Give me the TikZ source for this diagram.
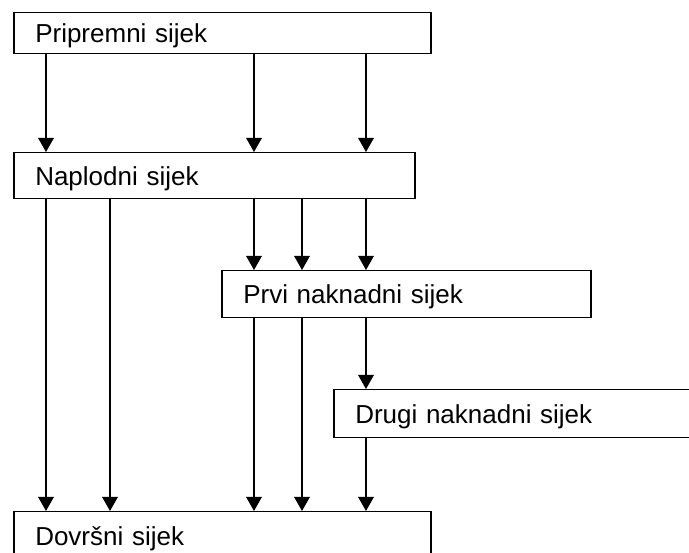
\documentclass[tikz,border=0pt]{standalone}
\usepackage{fontspec}
\setmainfont{Liberation Sans}
\usetikzlibrary{arrows.meta}
\begin{document}
\begin{tikzpicture}[x=1pt,y=-1pt,
  box/.style={draw=black, line width=1.5pt, anchor=north west, inner xsep=21.5pt, inner ysep=0pt,
    align=left, text height=18.6pt, text depth=0pt, font=\fontsize{26}{30}\selectfont},
  arr/.style={draw=black, line width=1.4pt, -{Triangle[length=14pt,width=15.5pt]}}]
\useasboundingbox (0,0) rectangle (689,553);
\clip (0,0) rectangle (689,553);
\fill[white] (0,0) rectangle (689,553);
\node[box, text width=374pt, minimum height=41pt] (b1) at (13,12) {Pripremni sijek};
\node[box, text width=358pt, minimum height=46pt] (b2) at (13,152) {Naplodni sijek};
\node[box, text width=326pt, minimum height=47pt] (b3) at (221,270) {Prvi naknadni sijek};
\node[box, text width=400pt, minimum height=48pt] (b4) at (333,389) {Drugi naknadni sijek};
\node[box, text width=374pt, minimum height=48pt] (b5) at (13,511) {Dovršni sijek};
\coordinate (c1) at (46,0);
\coordinate (c2) at (110,0);
\coordinate (c3) at (254,0);
\coordinate (c4) at (302,0);
\coordinate (c5) at (366,0);
% Pripremni -> Naplodni
\draw[arr] (b1.south -| c1) -- (b2.north -| c1);
\draw[arr] (b1.south -| c3) -- (b2.north -| c3);
\draw[arr] (b1.south -| c5) -- (b2.north -| c5);
% Naplodni -> Dovrsni
\draw[arr] (b2.south -| c1) -- (b5.north -| c1);
\draw[arr] (b2.south -| c2) -- (b5.north -| c2);
% Naplodni -> Prvi
\draw[arr] (b2.south -| c3) -- (b3.north -| c3);
\draw[arr] (b2.south -| c4) -- (b3.north -| c4);
\draw[arr] (b2.south -| c5) -- (b3.north -| c5);
% Prvi -> Dovrsni
\draw[arr] (b3.south -| c3) -- (b5.north -| c3);
\draw[arr] (b3.south -| c4) -- (b5.north -| c4);
% Prvi -> Drugi
\draw[arr] (b3.south -| c5) -- (b4.north -| c5);
% Drugi -> Dovrsni
\draw[arr] (b4.south -| c5) -- (b5.north -| c5);
\end{tikzpicture}
\end{document}
